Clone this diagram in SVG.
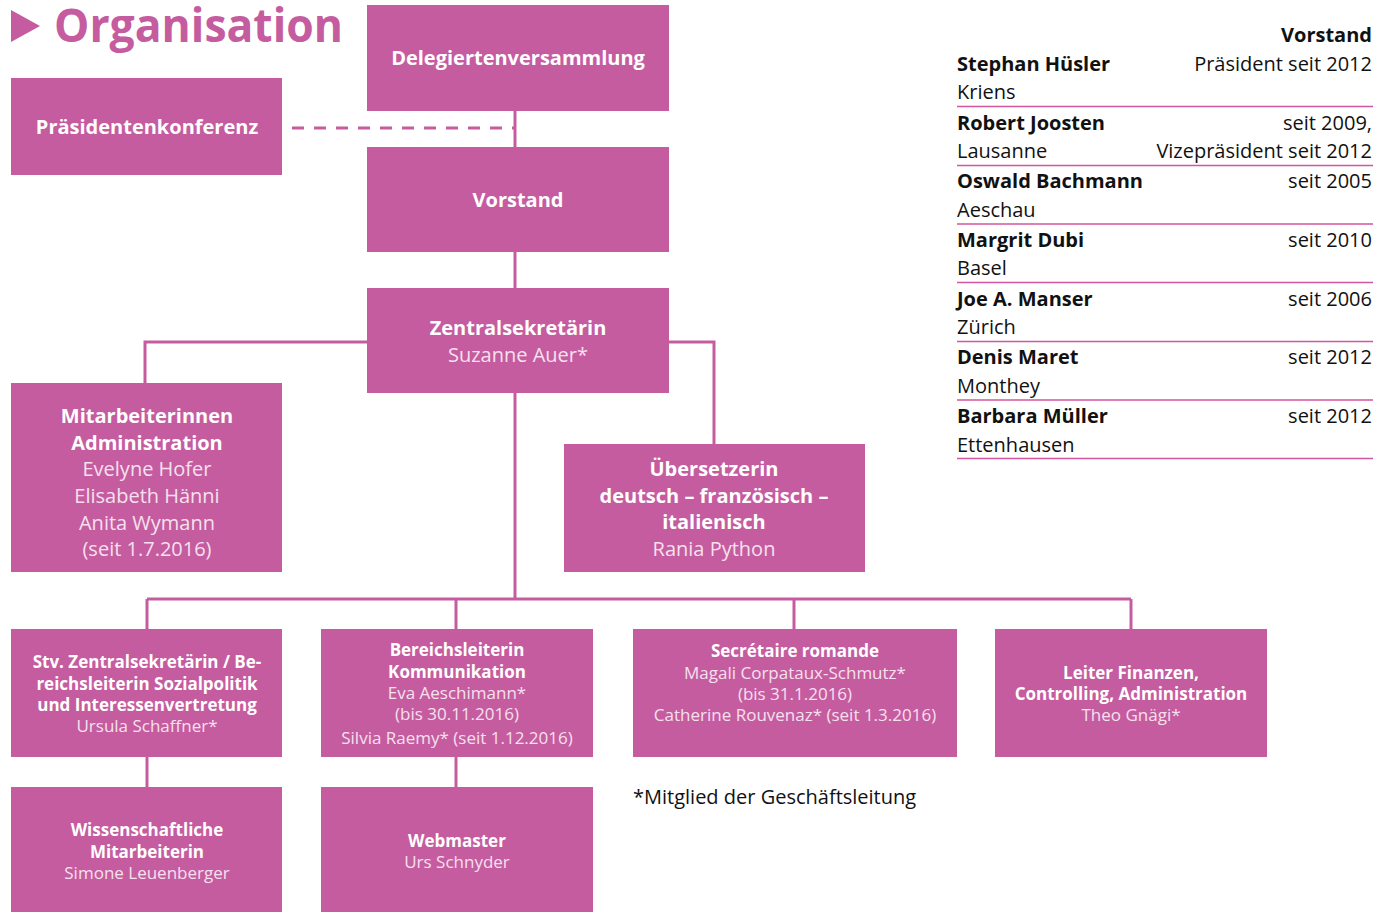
<svg xmlns="http://www.w3.org/2000/svg" width="1386" height="912" viewBox="0 0 1386 912">
<style>
.box{fill:#c55c9f}
.h{font-family:"Open Sans","Noto Sans",sans-serif;font-weight:700;fill:#ffffff;text-anchor:middle}
.n{font-family:"Open Sans","Noto Sans",sans-serif;font-weight:400;fill:#f6e0ee;text-anchor:middle}
.s20{font-size:20px}
.s17{font-size:17px}
.con{stroke:#c55c9f;stroke-width:3;fill:none}
.tb{font-family:"Open Sans","Noto Sans",sans-serif;font-size:20px;fill:#111}
.b{font-weight:700}
.r{text-anchor:end}
.rule{stroke:#d4559f;stroke-width:1.5}
</style>
<rect width="1386" height="912" fill="#ffffff"/>
<g id="title">
<polygon points="11,10 40,26 11,42" fill="#c55c9f"/>
<text x="54" y="42" font-family="Open Sans, Noto Sans, sans-serif" font-weight="700" font-size="47" fill="#c55c9f" textLength="289" lengthAdjust="spacingAndGlyphs">Organisation</text>
</g>
<g id="connectors">
<line class="con" x1="515" y1="111" x2="515" y2="147"/>
<line class="con" x1="515" y1="252" x2="515" y2="288"/>
<line class="con" x1="515" y1="393" x2="515" y2="600"/>
<line class="con" x1="292" y1="128" x2="515" y2="128" stroke-dasharray="12,10"/>
<polyline class="con" points="367,342 145,342 145,383"/>
<polyline class="con" points="669,342 714,342 714,444"/>
<line class="con" x1="147" y1="599" x2="1131" y2="599"/>
<line class="con" x1="147" y1="599" x2="147" y2="629"/>
<line class="con" x1="456" y1="599" x2="456" y2="629"/>
<line class="con" x1="794" y1="599" x2="794" y2="629"/>
<line class="con" x1="1131" y1="599" x2="1131" y2="629"/>
<line class="con" x1="147" y1="757" x2="147" y2="787"/>
<line class="con" x1="456" y1="757" x2="456" y2="787"/>
</g>
<g id="delegiertenversammlung">
<rect class="box" x="367" y="5" width="302" height="106"/>
<text class="h s20" x="518" y="65">Delegiertenversammlung</text>
</g>
<g id="praesidentenkonferenz">
<rect class="box" x="11" y="78" width="271" height="97"/>
<text class="h s20" x="147" y="134">Präsidentenkonferenz</text>
</g>
<g id="vorstand">
<rect class="box" x="367" y="147" width="302" height="105"/>
<text class="h s20" x="518" y="207">Vorstand</text>
</g>
<g id="zentralsekretaerin">
<rect class="box" x="367" y="288" width="302" height="105"/>
<text class="h s20" x="518" y="335">Zentralsekretärin</text>
<text class="n s20" x="518" y="362">Suzanne Auer*</text>
</g>
<g id="mitarbeiterinnen">
<rect class="box" x="11" y="383" width="271" height="189"/>
<text class="h s20" x="147" y="423">Mitarbeiterinnen</text>
<text class="h s20" x="147" y="450">Administration</text>
<text class="n s20" x="147" y="476">Evelyne Hofer</text>
<text class="n s20" x="147" y="503">Elisabeth Hänni</text>
<text class="n s20" x="147" y="530">Anita Wymann</text>
<text class="n s20" x="147" y="556">(seit 1.7.2016)</text>
</g>
<g id="uebersetzerin">
<rect class="box" x="564" y="444" width="301" height="128"/>
<text class="h s20" x="714" y="476">Übersetzerin</text>
<text class="h s20" x="714" y="503">deutsch – französisch –</text>
<text class="h s20" x="714" y="529">italienisch</text>
<text class="n s20" x="714" y="556">Rania Python</text>
</g>
<g id="stv-zentralsekretaerin">
<rect class="box" x="11" y="629" width="271" height="128"/>
<text class="h s17" x="147" y="668">Stv. Zentralsekretärin / Be-</text>
<text class="h s17" x="147" y="690">reichsleiterin Sozialpolitik</text>
<text class="h s17" x="147" y="711">und Interessenvertretung</text>
<text class="n s17" x="147" y="732">Ursula Schaffner*</text>
</g>
<g id="bereichsleiterin-kommunikation">
<rect class="box" x="321" y="629" width="272" height="128"/>
<text class="h s17" x="457" y="656">Bereichsleiterin</text>
<text class="h s17" x="457" y="678">Kommunikation</text>
<text class="n s17" x="457" y="699">Eva Aeschimann*</text>
<text class="n s17" x="457" y="720">(bis 30.11.2016)</text>
<text class="n s17" x="457" y="744">Silvia Raemy* (seit 1.12.2016)</text>
</g>
<g id="secretaire-romande">
<rect class="box" x="633" y="629" width="324" height="128"/>
<text class="h s17" x="795" y="657">Secrétaire romande</text>
<text class="n s17" x="795" y="679">Magali Corpataux-Schmutz*</text>
<text class="n s17" x="795" y="700">(bis 31.1.2016)</text>
<text class="n s17" x="795" y="721">Catherine Rouvenaz* (seit 1.3.2016)</text>
</g>
<g id="leiter-finanzen">
<rect class="box" x="995" y="629" width="272" height="128"/>
<text class="h s17" x="1131" y="679">Leiter Finanzen,</text>
<text class="h s17" x="1131" y="700">Controlling, Administration</text>
<text class="n s17" x="1131" y="721">Theo Gnägi*</text>
</g>
<g id="wissenschaftliche-mitarbeiterin">
<rect class="box" x="11" y="787" width="271" height="125"/>
<text class="h s17" x="147" y="836">Wissenschaftliche</text>
<text class="h s17" x="147" y="858">Mitarbeiterin</text>
<text class="n s17" x="147" y="879">Simone Leuenberger</text>
</g>
<g id="webmaster">
<rect class="box" x="321" y="787" width="272" height="125"/>
<text class="h s17" x="457" y="847">Webmaster</text>
<text class="n s17" x="457" y="868">Urs Schnyder</text>
</g>
<g id="footnote">
<text class="tb" x="633" y="804" fill="#222">*Mitglied der Geschäftsleitung</text>
</g>
<g id="vorstand-tabelle">
<text class="tb b r" x="1372" y="42">Vorstand</text>
<text class="tb b" x="957" y="71">Stephan Hüsler</text>
<text class="tb r" x="1372" y="71">Präsident seit 2012</text>
<text class="tb" x="957" y="99">Kriens</text>
<line class="rule" x1="957" y1="106.5" x2="1373" y2="106.5"/>
<text class="tb b" x="957" y="130">Robert Joosten</text>
<text class="tb r" x="1372" y="130">seit 2009,</text>
<text class="tb" x="957" y="158">Lausanne</text>
<text class="tb r" x="1372" y="158">Vizepräsident seit 2012</text>
<line class="rule" x1="957" y1="165.5" x2="1373" y2="165.5"/>
<text class="tb b" x="957" y="188">Oswald Bachmann</text>
<text class="tb r" x="1372" y="188">seit 2005</text>
<text class="tb" x="957" y="217">Aeschau</text>
<line class="rule" x1="957" y1="224" x2="1373" y2="224"/>
<text class="tb b" x="957" y="247">Margrit Dubi</text>
<text class="tb r" x="1372" y="247">seit 2010</text>
<text class="tb" x="957" y="275">Basel</text>
<line class="rule" x1="957" y1="282.5" x2="1373" y2="282.5"/>
<text class="tb b" x="957" y="306">Joe A. Manser</text>
<text class="tb r" x="1372" y="306">seit 2006</text>
<text class="tb" x="957" y="334">Zürich</text>
<line class="rule" x1="957" y1="341.5" x2="1373" y2="341.5"/>
<text class="tb b" x="957" y="364">Denis Maret</text>
<text class="tb r" x="1372" y="364">seit 2012</text>
<text class="tb" x="957" y="393">Monthey</text>
<line class="rule" x1="957" y1="400" x2="1373" y2="400"/>
<text class="tb b" x="957" y="423">Barbara Müller</text>
<text class="tb r" x="1372" y="423">seit 2012</text>
<text class="tb" x="957" y="452">Ettenhausen</text>
<line class="rule" x1="957" y1="458.5" x2="1373" y2="458.5"/>
</g>
</svg>
